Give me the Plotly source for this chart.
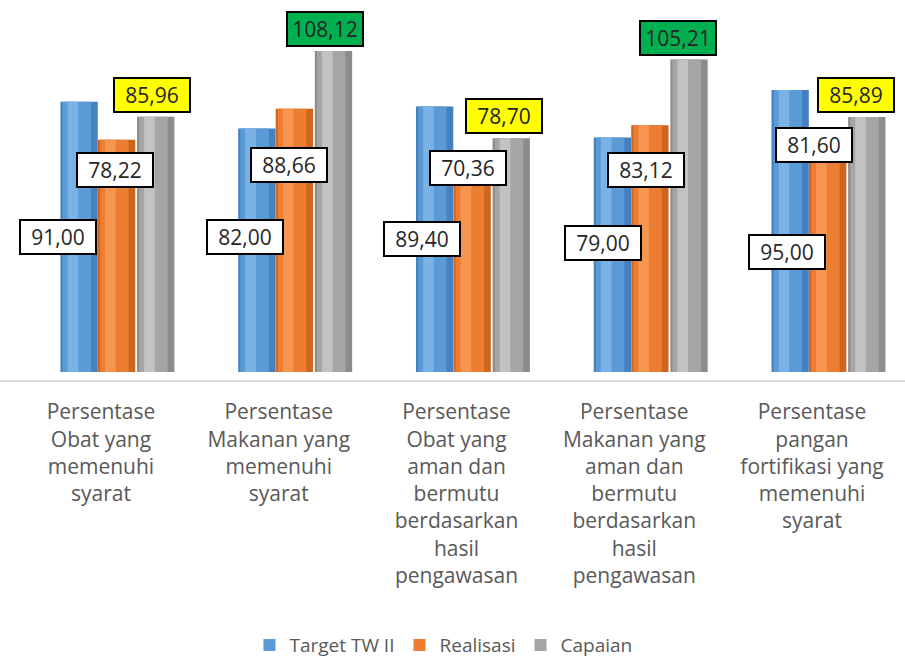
import plotly.graph_objects as go

categories = [
    "Persentase<br>Obat yang<br>memenuhi<br>syarat",
    "Persentase<br>Makanan yang<br>memenuhi<br>syarat",
    "Persentase<br>Obat yang<br>aman dan<br>bermutu<br>berdasarkan<br>hasil<br>pengawasan",
    "Persentase<br>Makanan yang<br>aman dan<br>bermutu<br>berdasarkan<br>hasil<br>pengawasan",
    "Persentase<br>pangan<br>fortifikasi yang<br>memenuhi<br>syarat",
]
target = [91.00, 82.00, 89.40, 79.00, 95.00]
realisasi = [78.22, 88.66, 70.36, 83.12, 81.60]
capaian = [85.96, 108.12, 78.70, 105.21, 85.89]
series_names = ["Target TW II", "Realisasi", "Capaian"]

colors = ["#5B9BD5", "#ED7D31", "#A5A5A5"]
dark = ["#4581C0", "#CF6620", "#8C8C8C"]
light = ["#7AB2E6", "#F69650", "#C2C2C2"]
offsets = [-0.228, -0.017, 0.203]
width = 0.21

FONT = "Open Sans, Noto Sans, sans-serif"

def fmt(v):
    return f"{v:.2f}".replace(".", ",")

fig = go.Figure()
for name, vals, c, d, lt, off in zip(series_names, [target, realisasi, capaian], colors, dark, light, offsets):
    # cylinder-like shading: dark body, main colour, highlight strip
    fig.add_trace(go.Bar(x=categories, y=vals, name=name, showlegend=False,
                         marker=dict(color=d, line=dict(width=0)),
                         width=width, offset=off, hoverinfo="skip"))
    fig.add_trace(go.Bar(x=categories, y=vals, name=name, showlegend=True,
                         marker=dict(color=c, line=dict(width=0)),
                         width=width - 0.05, offset=off + 0.012))
    fig.add_trace(go.Bar(x=categories, y=vals, name=name, showlegend=False,
                         marker=dict(color=lt, line=dict(width=0)),
                         width=0.06, offset=off + 0.04, hoverinfo="skip"))

# label placement (layout)
blue_y = [45.5, 45.5, 44.8, 43.4, 40.4]
orange_y = [68.0, 69.7, 68.7, 68.0, 76.4]
blue_dx = [-43, -34, -35, -31, -25]
orange_dx = [14, 10, 11, 12, 2]
gray_dx = [51, 46, 47, 44, 44]

ann = []
font = dict(family=FONT, size=21, color="#262626")
box = dict(showarrow=False, bordercolor="black", borderwidth=2, borderpad=3,
           width=68, height=26, font=font, xref="x", yref="y")
for i, cat in enumerate(categories):
    ann.append(dict(x=cat, y=blue_y[i], text=fmt(target[i]), xshift=blue_dx[i],
                    bgcolor="white", **box))
    ann.append(dict(x=cat, y=orange_y[i], text=fmt(realisasi[i]), xshift=orange_dx[i],
                    bgcolor="white", **box))
    bg = "#00B050" if capaian[i] > 100 else "#FFFF00"
    ann.append(dict(x=cat, y=capaian[i], text=fmt(capaian[i]), xshift=gray_dx[i],
                    yshift=4, yanchor="bottom", bgcolor=bg, **box))

fig.update_layout(
    width=905, height=657,
    margin=dict(l=0, r=0, t=10, b=277, autoexpand=False),
    paper_bgcolor="white", plot_bgcolor="white",
    barmode="overlay",
    showlegend=True,
    legend=dict(orientation="h", x=0.49, xanchor="center", yref="container",
                y=0.018, yanchor="middle",
                font=dict(family=FONT, size=19, color="#595959"),
                itemwidth=30, traceorder="normal"),
    annotations=ann,
    xaxis=dict(type="category", range=[-0.568, 4.523], showgrid=False,
               showline=True, linecolor="#D9D9D9", linewidth=2, ticks="",
               tickfont=dict(family=FONT, size=21, color="#595959"),
               ticklabelstandoff=12),
    yaxis=dict(range=[-2.7, 121.9], visible=False, showgrid=False, zeroline=False),
)

fig.write_html("out.html", config={"displayModeBar": False},
               post_script="document.body.style.margin='0px';document.body.style.overflow='hidden';")
